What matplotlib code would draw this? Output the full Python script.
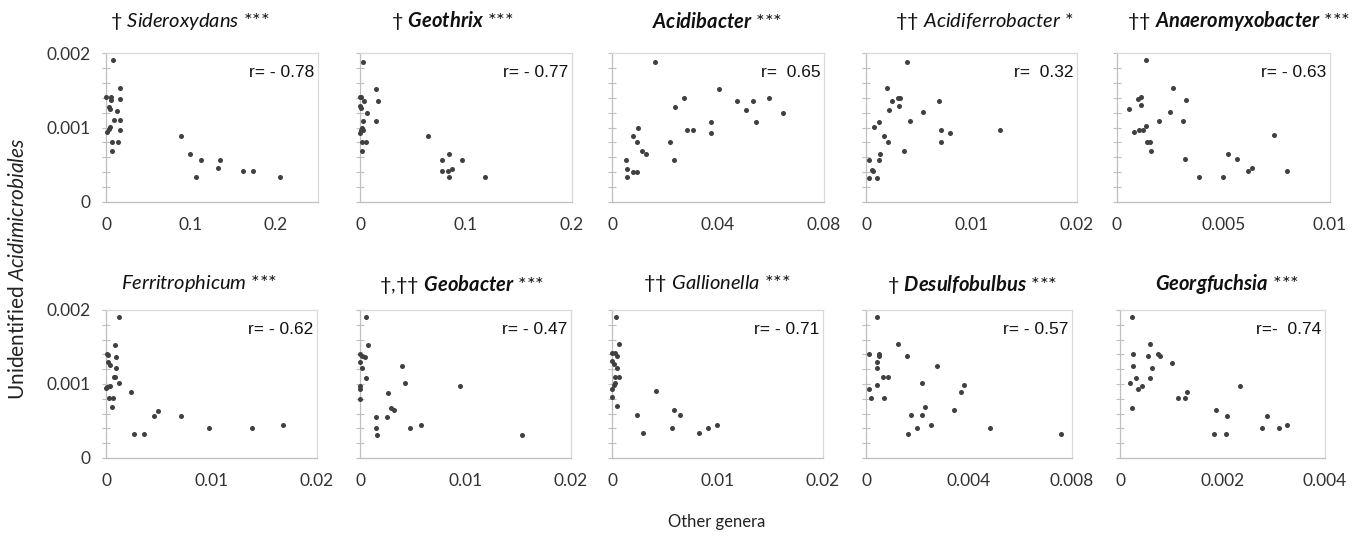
import matplotlib
matplotlib.use("Agg")
import matplotlib.pyplot as plt
from matplotlib.ticker import MultipleLocator

plt.rcParams['font.family'] = ['Lato', 'DejaVu Sans']
plt.rcParams['mathtext.fontset'] = 'custom'
plt.rcParams['mathtext.rm'] = 'Lato'
plt.rcParams['mathtext.it'] = 'Lato:italic'
plt.rcParams['mathtext.bf'] = 'Lato:italic:bold'

# ---- data (x = genus abundance, y = unidentified Acidimicrobiales)
sider_x = [0.0079, 0.0004, 0.0059, 0.0063, 0.0030, 0.0050, 0.0160, 0.0160, 0.0130, 0.0090, 0.0160, 0.0160, 0.0043,
           0.0035, 0.0012, 0.0071, 0.0140, 0.0071, 0.0888, 0.0987, 0.1124, 0.1057, 0.1340, 0.1317, 0.1615, 0.1737, 0.2056]
sider_y = [0.00190, 0.00141, 0.00141, 0.00137, 0.00128, 0.00125, 0.00153, 0.00138, 0.00122, 0.00110, 0.00110, 0.00097,
           0.00101, 0.00098, 0.00094, 0.00081, 0.00081, 0.00069, 0.00089, 0.00064, 0.00057, 0.00033, 0.00057, 0.00045,
           0.00041, 0.00041, 0.00033]

geoth_x = [0.0025, 0.0000, 0.0013, 0.0038, 0.0000, 0.0009, 0.0149, 0.0174, 0.0070, 0.0025, 0.0155, 0.0019, 0.0032,
           0.0006, 0.0000, 0.0022, 0.0057, 0.0016, 0.0646, 0.0775, 0.0842, 0.0962, 0.0778, 0.0826, 0.0870, 0.0842, 0.1177]
geoth_y = [0.00188, 0.00141, 0.00141, 0.00136, 0.00129, 0.00126, 0.00152, 0.00136, 0.00120, 0.00109, 0.00109, 0.00100,
           0.00097, 0.00096, 0.00093, 0.00081, 0.00081, 0.00069, 0.00089, 0.00057, 0.00065, 0.00057, 0.00041, 0.00041,
           0.00044, 0.00033, 0.00033]

acidib_x = [0.0164, 0.0051, 0.0057, 0.0057, 0.0081, 0.0096, 0.0081, 0.0096, 0.0099, 0.0112, 0.0130, 0.0217, 0.0235,
            0.0239, 0.0272, 0.0284, 0.0307, 0.0372, 0.0372, 0.0404, 0.0472, 0.0504, 0.0531, 0.0544, 0.0591, 0.0647]
acidib_y = [0.00188, 0.00056, 0.00044, 0.00033, 0.00040, 0.00040, 0.00088, 0.00080, 0.00100, 0.00068, 0.00065, 0.00080,
            0.00056, 0.00128, 0.00140, 0.00096, 0.00096, 0.00108, 0.00092, 0.00152, 0.00135, 0.00124, 0.00135, 0.00108,
            0.00140, 0.00119]

acidif_x = [0.0039, 0.0020, 0.0025, 0.0030, 0.0032, 0.0031, 0.0022, 0.0012, 0.0008, 0.0042, 0.0054, 0.0069, 0.0071,
            0.0071, 0.0080, 0.0127, 0.0017, 0.0021, 0.0036, 0.0013, 0.0012, 0.0003, 0.0006, 0.0007, 0.0003, 0.0010]
acidif_y = [0.00188, 0.00153, 0.00136, 0.00140, 0.00140, 0.00129, 0.00124, 0.00108, 0.00101, 0.00109, 0.00121, 0.00136,
            0.00096, 0.00080, 0.00092, 0.00096, 0.00089, 0.00080, 0.00069, 0.00064, 0.00057, 0.00057, 0.00043, 0.00041,
            0.00032, 0.00032]

anaero_x = [0.00136, 0.00265, 0.00325, 0.00099, 0.00112, 0.00115, 0.00056, 0.00250, 0.00195, 0.00309, 0.00136, 0.00104,
            0.00123, 0.00081, 0.00139, 0.00156, 0.00161, 0.00317, 0.00383, 0.00498, 0.00523, 0.00563, 0.00614, 0.00633,
            0.00735, 0.00800]
anaero_y = [0.00190, 0.00153, 0.00137, 0.00138, 0.00141, 0.00130, 0.00125, 0.00121, 0.00109, 0.00109, 0.00102, 0.00097,
            0.00097, 0.00094, 0.00081, 0.00081, 0.00069, 0.00058, 0.00033, 0.00033, 0.00065, 0.00058, 0.00042, 0.00045,
            0.00090, 0.00042]

ferri_x = [0.00126, 0.00082, 0.00010, 0.00020, 0.00092, 0.00020, 0.00035, 0.00092, 0.00073, 0.00088, 0.00126, 0.00010,
           0.00035, 0.00003, 0.00032, 0.00063, 0.00057, 0.00237, 0.00265, 0.00360, 0.00455, 0.00496, 0.00708, 0.00973,
           0.01387, 0.01681]
ferri_y = [0.00190, 0.00153, 0.00141, 0.00139, 0.00137, 0.00130, 0.00126, 0.00122, 0.00110, 0.00110, 0.00101, 0.00096,
           0.00097, 0.00094, 0.00081, 0.00081, 0.00069, 0.00089, 0.00033, 0.00033, 0.00057, 0.00064, 0.00057, 0.00041,
           0.00041, 0.00045]

geoba_x = [0.00054, 0.00079, 0.00000, 0.00016, 0.00044, 0.00000, 0.00016, 0.00057, 0.00003, 0.00000, 0.00000, 0.00396,
           0.00430, 0.00949, 0.00269, 0.00294, 0.00320, 0.00149, 0.00260, 0.00155, 0.00165, 0.00475, 0.00576, 0.01538]
geoba_y = [0.00190, 0.00153, 0.00141, 0.00138, 0.00137, 0.00130, 0.00121, 0.00108, 0.00097, 0.00093, 0.00080, 0.00125,
           0.00101, 0.00097, 0.00088, 0.00067, 0.00065, 0.00056, 0.00056, 0.00040, 0.00031, 0.00040, 0.00044, 0.00031]

galli_x = [0.00038, 0.00069, 0.00000, 0.00031, 0.00050, 0.00000, 0.00016, 0.00047, 0.00025, 0.00063, 0.00025, 0.00016,
           0.00000, 0.00003, 0.00047, 0.00413, 0.00233, 0.00296, 0.00586, 0.00646, 0.00567, 0.00825, 0.00910, 0.00995]
galli_y = [0.00191, 0.00154, 0.00142, 0.00142, 0.00138, 0.00131, 0.00127, 0.00121, 0.00110, 0.00110, 0.00101, 0.00098,
           0.00093, 0.00082, 0.00070, 0.00090, 0.00058, 0.00034, 0.00065, 0.00058, 0.00041, 0.00034, 0.00041, 0.00045]

desulf_x = [0.00041, 0.00125, 0.00013, 0.00049, 0.00049, 0.00041, 0.00160, 0.00041, 0.00277, 0.00067, 0.00085, 0.00217,
            0.00041, 0.00010, 0.00021, 0.00070, 0.00381, 0.00367, 0.00231, 0.00342, 0.00174, 0.00216, 0.00199, 0.00252,
            0.00165, 0.00483, 0.00757]
desulf_y = [0.00190, 0.00154, 0.00141, 0.00141, 0.00138, 0.00130, 0.00138, 0.00121, 0.00125, 0.00110, 0.00110, 0.00101,
            0.00098, 0.00093, 0.00081, 0.00081, 0.00098, 0.00089, 0.00069, 0.00065, 0.00058, 0.00058, 0.00041, 0.00045,
            0.00032, 0.00041, 0.00032]

georg_x = [0.00023, 0.00058, 0.00026, 0.00055, 0.00074, 0.00079, 0.00026, 0.00101, 0.00062, 0.00032, 0.00058, 0.00020,
           0.00035, 0.00042, 0.00023, 0.00114, 0.00127, 0.00130, 0.00234, 0.00187, 0.00209, 0.00183, 0.00206, 0.00287,
           0.00278, 0.00310, 0.00326]
georg_y = [0.00190, 0.00154, 0.00141, 0.00138, 0.00141, 0.00138, 0.00125, 0.00129, 0.00121, 0.00108, 0.00108, 0.00101,
           0.00093, 0.00097, 0.00068, 0.00081, 0.00081, 0.00089, 0.00097, 0.00065, 0.00057, 0.00032, 0.00032, 0.00057,
           0.00041, 0.00041, 0.00045]

xs = [sider_x, geoth_x, acidib_x, acidif_x, anaero_x, ferri_x, geoba_x, galli_x, desulf_x, georg_x]
ys = [sider_y, geoth_y, acidib_y, acidif_y, anaero_y, ferri_y, geoba_y, galli_y, desulf_y, georg_y]

titles = [r"† $\mathit{Sideroxydans}$ ***", r"† $\mathbf{Geothrix}$ ***", r"$\mathbf{Acidibacter}$ ***",
          r"†† $\mathit{Acidiferrobacter}$ *", r"†† $\mathbf{Anaeromyxobacter}$ ***",
          r"$\mathit{Ferritrophicum}$ ***", r"†,†† $\mathbf{Geobacter}$ ***", r"†† $\mathit{Gallionella}$ ***",
          r"† $\mathbf{Desulfobulbus}$ ***", r"$\mathbf{Georgfuchsia}$ ***"]
r_labels = ["r= - 0.78", "r= - 0.77", "r=  0.65", "r=  0.32", "r= - 0.63",
            "r= - 0.62", "r= - 0.47", "r= - 0.71", "r= - 0.57", "r=-  0.74"]
xmax = [0.25, 0.2, 0.08, 0.02, 0.01, 0.02, 0.02, 0.02, 0.008, 0.004]
xticks = [[0, 0.1, 0.2], [0, 0.1, 0.2], [0, 0.04, 0.08], [0, 0.01, 0.02], [0, 0.005, 0.01],
          [0, 0.01, 0.02], [0, 0.01, 0.02], [0, 0.01, 0.02], [0, 0.004, 0.008], [0, 0.002, 0.004]]
xticklabels = [["0", "0.1", "0.2"], ["0", "0.1", "0.2"], ["0", "0.04", "0.08"], ["0", "0.01", "0.02"],
               ["0", "0.005", "0.01"], ["0", "0.01", "0.02"], ["0", "0.01", "0.02"], ["0", "0.01", "0.02"],
               ["0", "0.004", "0.008"], ["0", "0.002", "0.004"]]
yticks = [0, 0.001, 0.002]
yticklabels = ["0", "0.001", "0.002"]

# panel boxes in pixels (left, top, right, bottom) and title centres
W, H = 1360, 538
boxes = [(106, 53, 318, 202), (360, 53, 572, 202), (612, 53, 824, 202), (866, 53, 1077, 202), (1117, 53, 1330, 202),
         (106, 310, 317, 458), (360, 310, 571, 458), (612, 310, 823, 458), (866, 310, 1072, 458), (1120, 310, 1325, 458)]
title_pos = [(190, 21), (452, 21), (717, 21), (984, 21), (1238, 21),
             (199, 284), (462, 284), (717, 284), (972, 284), (1227, 284)]

dot = "#404040"
frame = "#d9d9d9"
axc = "#bfbfbf"

fig = plt.figure(figsize=(W / 100, H / 100), dpi=100)

for i in range(10):
    x0, y0, x1, y1 = boxes[i]
    ax = fig.add_axes([x0 / W, (H - y1) / H, (x1 - x0) / W, (y1 - y0) / H])
    ax.scatter(xs[i], ys[i], s=13, color=dot, linewidths=0, zorder=3, clip_on=False)
    ax.set_xlim(0, xmax[i])
    ax.set_ylim(0, 0.002)
    ax.set_xticks(xticks[i])
    ax.set_xticklabels(xticklabels[i])
    ax.set_yticks(yticks)
    ax.yaxis.set_minor_locator(MultipleLocator(0.0002))
    if i % 5 == 0:
        ax.set_yticklabels(yticklabels)
    else:
        ax.set_yticklabels([])
    ax.tick_params(axis='x', length=0, pad=11, labelsize=12.5, labelcolor="#333333")
    ax.tick_params(axis='y', which='both', direction='inout', length=6, width=0.8, color=axc,
                   labelsize=12.5, labelcolor="#333333", pad=8)
    for side in ['top', 'right']:
        ax.spines[side].set_color(frame)
        ax.spines[side].set_linewidth(0.9)
    ax.spines['left'].set_color(axc)
    ax.spines['bottom'].set_color(axc)
    ax.spines['left'].set_linewidth(0.9)
    ax.spines['bottom'].set_linewidth(0.9)
    ax.text(0.982, 0.92, r_labels[i], transform=ax.transAxes, ha='right', va='top',
            fontsize=12.5, family='Liberation Sans', color="#111111")
    tx, ty = title_pos[i]
    fig.text(tx / W, 1 - ty / H, titles[i], ha='center', va='center', fontsize=14.5, color="#111111")

fig.text(18 / W, 0.5, r"Unidentified $\mathit{Acidimicrobiales}$", rotation=90, ha='center', va='center',
         fontsize=15, color="#222222")
fig.text(717 / W, 1 - 522 / H, "Other genera", ha='center', va='center', fontsize=12, color="#222222")

fig.savefig("out.png", dpi=100, facecolor="white")
